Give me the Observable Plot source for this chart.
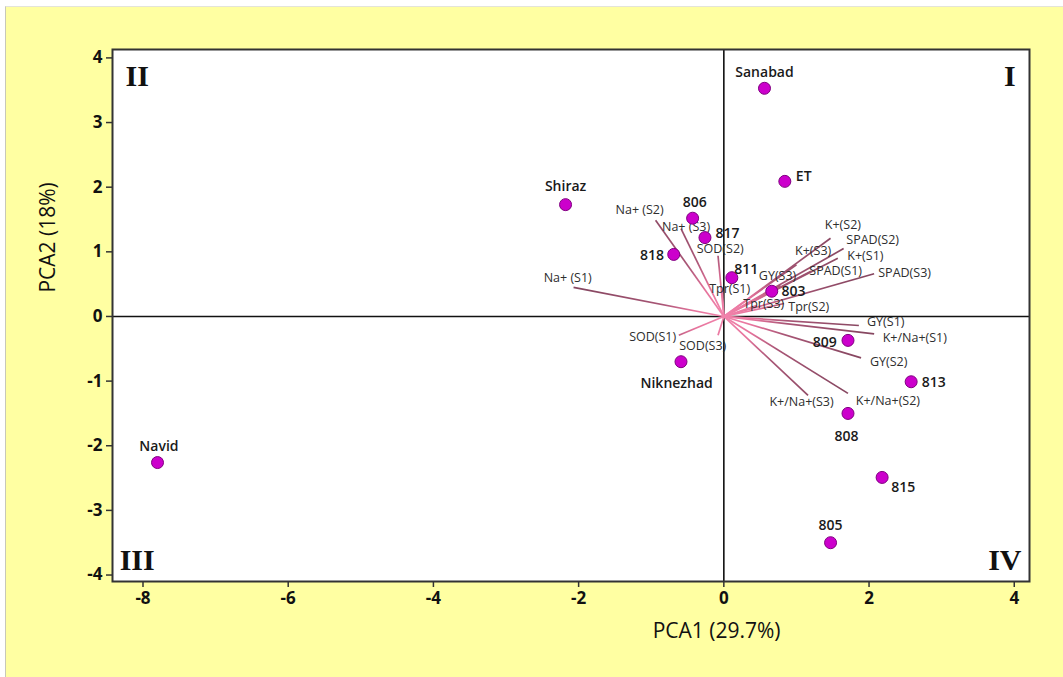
<!DOCTYPE html>
<html>
<head>
<meta charset="utf-8">
<script src="https://cdn.jsdelivr.net/npm/d3@7"></script>
<script src="https://cdn.jsdelivr.net/npm/@observablehq/plot@0.6"></script>
<style>
  html, body { margin: 0; padding: 0; background: #ffffff; }
  #bg { position: absolute; left: 5px; top: 6px; right: 0; bottom: 0; background: #FFFFA2; border-left: 1px solid #c8c8b8; border-top: 1px solid #e4e4d8; }
  #chart { position: absolute; left: 0; top: 0; }
</style>
</head>
<body>
<div id="bg"></div>
<div id="chart"></div>
<script>
// Genotype scores
const sampleNames = ["Sanabad","ET","Shiraz","806","817","818","811","803","809","Niknezhad","813","808","815","805","Navid"];
const samplePC1 = [0.56, 0.84, -2.18, -0.43, -0.26, -0.69, 0.11, 0.66, 1.71, -0.59, 2.58, 1.71, 2.18, 1.47, -7.80];
const samplePC2 = [3.53, 2.09, 1.73, 1.52, 1.22, 0.96, 0.60, 0.39, -0.37, -0.70, -1.01, -1.50, -2.49, -3.50, -2.26];
// where each genotype name sits (data units)
const sampleLabelPC1 = [0.56, 1.10, -2.18, -0.40, 0.05, -0.99, 0.31, 0.96, 1.39, -0.65, 2.89, 1.69, 2.47, 1.47, -7.78];
const sampleLabelPC2 = [3.78, 2.17, 2.01, 1.76, 1.28, 0.94, 0.72, 0.38, -0.40, -1.04, -1.02, -1.86, -2.65, -3.24, -2.01];

// Trait vectors (loadings)
const traitNames = ["Na+ (S1)","Na+ (S2)","Na+ (S3)","SOD(S2)","K+(S2)","SPAD(S2)","K+(S3)","K+(S1)","SPAD(S1)","SPAD(S3)","GY(S3)","Tpr(S1)","Tpr(S3)","Tpr(S2)","GY(S1)","K+/Na+(S1)","SOD(S1)","SOD(S3)","GY(S2)","K+/Na+(S3)","K+/Na+(S2)"];
const traitPC1 = [-2.07, -0.94, -0.59, -0.08, 1.47, 1.65, 1.00, 1.57, 1.20, 2.07, 0.78, -0.02, 0.45, 0.83, 1.86, 2.07, -0.62, -0.08, 1.89, 1.16, 1.71];
const traitPC2 = [0.45, 1.49, 1.36, 0.94, 1.21, 1.05, 0.80, 0.90, 0.70, 0.66, 0.48, 0.40, 0.17, 0.20, -0.14, -0.27, -0.29, -0.29, -0.64, -1.22, -1.19];
const traitLabelPC1 = [-2.15, -1.16, -0.52, -0.05, 1.64, 2.05, 1.23, 1.95, 1.54, 2.49, 0.74, 0.08, 0.55, 1.17, 2.23, 2.63, -0.98, -0.29, 2.27, 1.07, 2.26];
const traitLabelPC2 = [0.60, 1.64, 1.38, 1.04, 1.42, 1.19, 1.02, 0.94, 0.70, 0.68, 0.63, 0.43, 0.20, 0.15, -0.09, -0.34, -0.31, -0.45, -0.70, -1.33, -1.30];

// Quadrant numerals
const quadrantNames = ["I", "II", "III", "IV"];
const quadrantPC1 = [3.94, -8.08, -8.08, 3.87];
const quadrantPC2 = [3.72, 3.72, -3.78, -3.78];

const xTicks = [-8, -6, -4, -2, 0, 2, 4];
const yTicks = [-4, -3, -2, -1, 0, 1, 2, 3, 4];
const xTitle = "PCA1 (29.7%)";
const yTitle = "PCA2 (18%)";

const samples = sampleNames.map((n, i) => ({name: n, x: samplePC1[i], y: samplePC2[i], lx: sampleLabelPC1[i], ly: sampleLabelPC2[i]}));
const traits = traitNames.map((n, i) => ({name: n, x: traitPC1[i], y: traitPC2[i], lx: traitLabelPC1[i], ly: traitLabelPC2[i]}));
const quads = quadrantNames.map((n, i) => ({name: n, x: quadrantPC1[i], y: quadrantPC2[i]}));

const sans = "'Open Sans', 'Noto Sans', 'DejaVu Sans', sans-serif";

const plot = Plot.plot({
  width: 1063,
  height: 677,
  marginLeft: 112,
  marginRight: 34,
  marginTop: 49,
  marginBottom: 96,
  style: {background: "transparent", fontFamily: sans, color: "#111"},
  x: {domain: [-8.42, 4.21]},
  y: {domain: [-4.1, 4.13]},
  marks: [
    Plot.frame({fill: "white", stroke: "none"}),
    Plot.axisX({ticks: xTicks, tickSize: 6, tickPadding: 4, fontSize: 17, fontWeight: "bold", label: null, tickFormat: d => String(d).replace("−", "-"), stroke: "#333", strokeWidth: 1.5}),
    Plot.axisY({ticks: yTicks, tickSize: 6, tickPadding: 4, fontSize: 17, fontWeight: "bold", label: null, tickFormat: d => String(d).replace("−", "-"), stroke: "#333", strokeWidth: 1.5}),
    Plot.ruleX([0], {stroke: "#111", strokeWidth: 1.6}),
    Plot.ruleY([0], {stroke: "#111", strokeWidth: 1.6}),
    Plot.link(traits, {x1: () => 0, y1: () => 0, x2: "x", y2: "y", stroke: "url(#vecgrad)", strokeWidth: 1.7}),
    Plot.text(traits, {x: "lx", y: "ly", text: "name", fontSize: 12.5, fill: "#2e2e2e", textAnchor: "middle", fontFamily: sans}),
    Plot.dot(samples, {x: "x", y: "y", r: 6, fill: "#CC00CC", stroke: "#800080", strokeWidth: 1}),
    Plot.text(samples, {x: "lx", y: "ly", text: "name", fontSize: 14, fontWeight: 600, fill: "#1a1a1a", textAnchor: "middle", fontFamily: sans}),
    Plot.text(quads, {x: "x", y: "y", text: "name", fontSize: 30, fontWeight: "bold", fill: "#111", textAnchor: "middle", fontFamily: "'Liberation Serif', 'DejaVu Serif', serif"}),
    Plot.text([xTitle], {x: () => -0.1, frameAnchor: "bottom", dy: 56, text: d => d, fontSize: 21, fill: "#111", fontFamily: sans}),
    Plot.text([yTitle], {y: () => 0.37, frameAnchor: "left", dx: -64, rotate: -90, text: d => d, fontSize: 21, fill: "#111", fontFamily: sans}),
    Plot.frame({stroke: "#333", strokeWidth: 2})
  ]
});

// radial gradient centred on the origin so vectors fade from pink to mauve
const ox = plot.scale("x").apply(0);
const oy = plot.scale("y").apply(0);
const svg = d3.select(plot);
const defs = svg.insert("defs", ":first-child");
const g = defs.append("radialGradient").attr("id", "vecgrad").attr("gradientUnits", "userSpaceOnUse")
  .attr("cx", ox).attr("cy", oy).attr("r", 140);
[[0, "#f284ac"], [0.22, "#e6739c"], [0.45, "#a85575"], [1, "#874761"]].forEach(([o, c]) =>
  g.append("stop").attr("offset", o).attr("stop-color", c));

document.getElementById("chart").appendChild(plot);
</script>
</body>
</html>
